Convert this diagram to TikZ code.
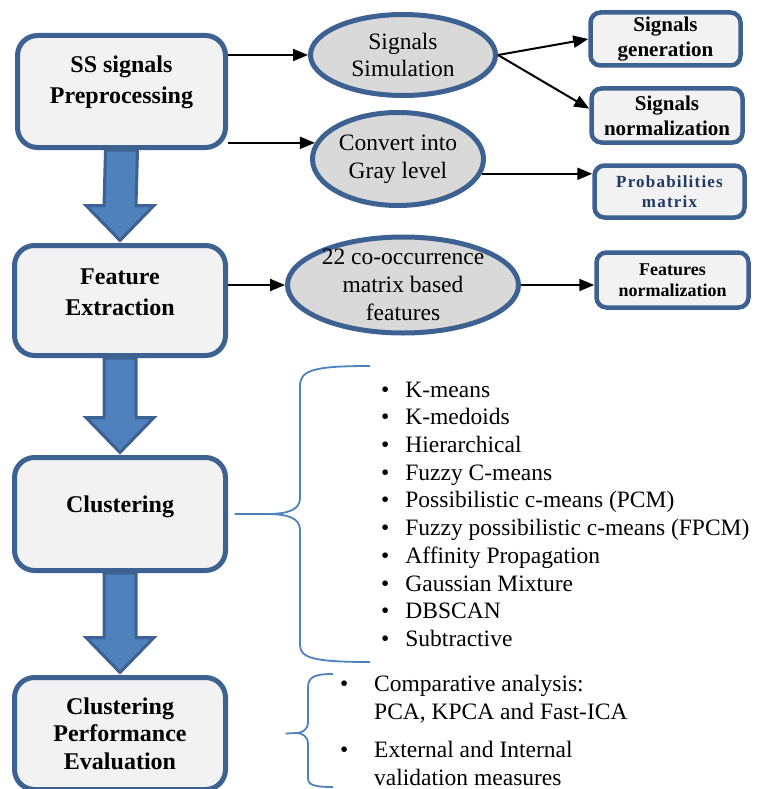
\documentclass[tikz,border=0pt]{standalone}
\usepackage{fontspec}
\setmainfont{Liberation Serif}
\usetikzlibrary{shapes.geometric,arrows.meta,calc,backgrounds}
\definecolor{boxline}{HTML}{3D6191}
\definecolor{boxfill}{HTML}{F2F2F2}
\definecolor{ellfill}{HTML}{D9D9D9}
\definecolor{flowfill}{HTML}{4F81BD}
\definecolor{bracecol}{HTML}{4F81BD}
\definecolor{navytext}{HTML}{1F3864}

\begin{document}
\begin{tikzpicture}[x=1pt,y=-1pt,
  stage/.style={draw=boxline, fill=boxfill, line width=5pt, rounded corners=20pt, minimum width=211pt, inner sep=0pt},
  stagetext/.style={align=center, inner sep=0pt, font=\fontsize{24}{31}\selectfont\bfseries},
  task/.style={draw=boxline, fill=ellfill, ellipse, line width=5pt, align=center, inner sep=0pt, font=\fontsize{23.5}{27.7}\selectfont},
  result/.style={draw=boxline, fill=boxfill, line width=4.5pt, rounded corners=10pt, minimum width=150pt, minimum height=53pt, align=center, inner sep=0pt, font=\fontsize{21}{25}\selectfont\bfseries},
  link/.style={line width=2pt, -{Triangle[length=15pt,width=12pt]}},
  flow/.style={draw=boxline, fill=flowfill, line width=3pt, line join=miter},
  brace/.style={draw=bracecol, line width=1.8pt},
  itemlist/.style={anchor=north west, inner sep=0pt, font=\fontsize{23.5}{27.7}\selectfont}]
\useasboundingbox (0,0) rectangle (757,789);

% main stages
\node[stage, minimum width=208pt, minimum height=112pt] (pre) at (121.5,91.5) {};
\node[stagetext] (pretext) at (121.5,82.5) {SS signals\\Preprocessing};
\node[stage, minimum height=110pt] (feat) at (120,300.5) {};
\node[stagetext] (feattext) at (120,292) {Feature\\Extraction};
\node[stage, minimum height=113pt] (clus) at (120,514) {};
\node[stagetext] (clustext) at (120,507) {Clustering};
\node[stage, minimum height=112pt] (eval) at (120,733.5) {};
\node[stagetext, font=\fontsize{24}{27.5}\selectfont\bfseries] (evaltext) at (120,733.5) {Clustering\\Performance\\Evaluation};

% intermediate steps
\node[task, minimum width=185pt, minimum height=81pt] (sim) at (403,55) {Signals\\Simulation};
\node[task, minimum width=171pt, minimum height=93pt] (conv) at (398,159) {Convert into\\Gray level};
\node[task, minimum width=231pt, minimum height=96pt, inner xsep=-7pt, inner ysep=-6pt] (cooc) at (403,285) {22 co-occurrence\\matrix based\\features};

% results
\node[result] (gen) at (665.5,39) {Signals\\generation};
\node[result, minimum width=151pt, minimum height=54pt] (norm) at (667,115.5) {Signals\\normalization};
\node[result, minimum height=52pt, text=navytext, font=\fontsize{17}{20}\selectfont\bfseries\addfontfeature{LetterSpace=7}] (prob) at (669.5,191.5) {Probabilities\\matrix};
\node[result, minimum width=152pt, minimum height=55pt, font=\fontsize{18}{21}\selectfont\bfseries] (fnorm) at (672.5,280) {Features\\normalization};

\draw[link] (pre.east |- sim) -- (sim.west);
\draw[link] (pre.east |- conv.169) -- (conv.169);
\draw[link] (sim.east) -- (gen.west);
\draw[link] (sim.east) -- (norm.175);
\draw[link] (conv.350) -- (conv.350 -| prob.west);
\draw[link] (feat.east |- cooc.west) -- (cooc.west);
\draw[link] (cooc.east) -- (cooc.east -| fnorm.west);

\begin{scope}[on background layer]
\foreach \a/\b in {pre/feat,feat/clus,clus/eval}
  \draw[flow] ($(\a.south)+(-16,0)$) -- ($(\a.south)+(16,0)$) -- ($(\b.north)+(16,-37.5)$)
    -- ($(\b.north)+(34,-37.5)$) -- ($(\b.north)+(0,-2.5)$) -- ($(\b.north)+(-34,-37.5)$)
    -- ($(\b.north)+(-16,-37.5)$) -- cycle;
\end{scope}

% clustering methods
\coordinate (bigtip) at ($(clus.east)+(6.5,0)$);
\draw[brace] (370,366) .. controls (314,366) and (300,370) .. (300,386) -- (300,498)
  .. controls (300,510) and (288,514) .. (266,514) -- (bigtip) -- (266,514)
  .. controls (288,514) and (300,518) .. (300,530) -- (300,645)
  .. controls (300,658) and (314,662) .. (370,662);
\node[itemlist] (algs) at (381,377.6) {\begin{tabular}{@{}l@{\hspace{16pt}}l@{}}
\textbullet & K-means\\
\textbullet & K-medoids\\
\textbullet & Hierarchical\\
\textbullet & Fuzzy C-means\\
\textbullet & Possibilistic c-means (PCM)\\
\textbullet & Fuzzy possibilistic c-means (FPCM)\\
\textbullet & Affinity Propagation\\
\textbullet & Gaussian Mixture\\
\textbullet & DBSCAN\\
\textbullet & Subtractive
\end{tabular}};

% evaluation
\coordinate (smalltip) at ($(eval.east)+(57.5,0)$);
\draw[brace] (333,674) .. controls (314,674) and (308,677) .. (308,688) -- (308,722)
  .. controls (308,730) and (302,733) .. (296,733) -- (smalltip) -- (296,733)
  .. controls (302,733) and (308,736) .. (308,744) -- (308,778)
  .. controls (308,785) and (314,787) .. (333,787);
\node[itemlist] (measures) at (340,672) {\begin{tabular}{@{}l@{\hspace{25.8pt}}l@{}}
\textbullet & Comparative analysis:\\
 & PCA, KPCA and Fast-ICA\\[11pt]
\textbullet & External and Internal\\
 & validation measures
\end{tabular}};
\end{tikzpicture}
\end{document}
